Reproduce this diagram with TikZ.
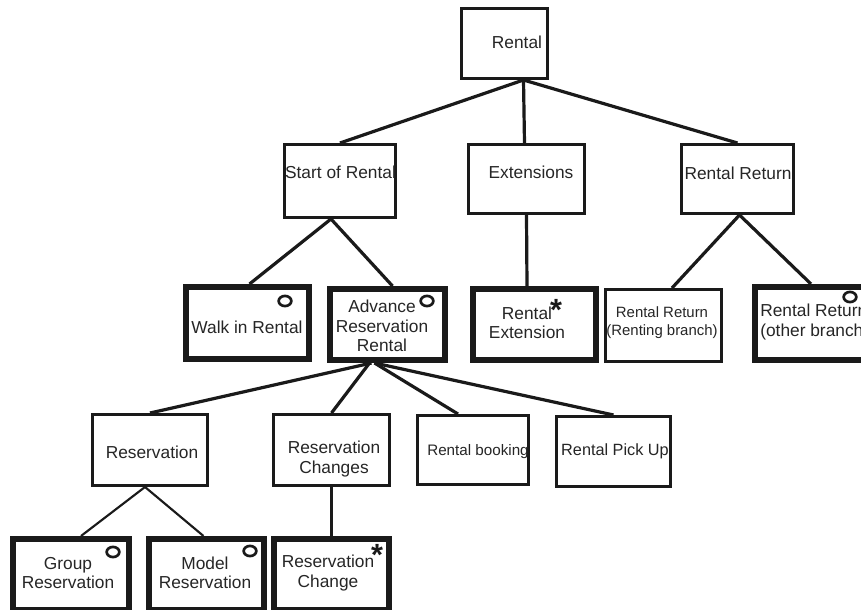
\documentclass[tikz,border=0pt]{standalone}
\usepackage{fontspec}
\setmainfont{Liberation Sans}
\usetikzlibrary{shapes.geometric,calc}
\definecolor{ink}{HTML}{1A1A1A}
\definecolor{txtc}{HTML}{262626}
\tikzset{
  thinbox/.style={draw=ink,line width=2.25pt,rectangle,inner sep=0pt,fill=white},
  thickbox/.style={draw=ink,line width=4.5pt,rectangle,inner sep=0pt,fill=white},
  link/.style={draw=ink,line width=2.4pt},
  linkthin/.style={draw=ink,line width=1.6pt},
  lab/.style={text=txtc,font=\fontsize{13}{14.5}\selectfont,align=center,inner sep=0pt},
  labsmall/.style={lab,font=\fontsize{11.2}{13.5}\selectfont},
  labmid/.style={lab,font=\fontsize{11.4}{14}\selectfont},
  mark circle/.style={ellipse,draw=ink,line width=2pt,minimum width=9.5pt,minimum height=7.6pt,inner sep=0pt},
  star/.style={text=ink,font=\bfseries\fontsize{23}{23}\selectfont,inner sep=0pt},
}
% #1 style, #2 name, #3 #4 top-left, #5 #6 bottom-right (outer edge, px); #7 border width in px
\newcommand{\pbox}[7]{%
  \pgfmathsetmacro{\bxw}{(#5-#3-#7)*0.75}%
  \pgfmathsetmacro{\bxh}{(#6-#4-#7)*0.75}%
  \node[#1,minimum width=\bxw pt,minimum height=\bxh pt] (#2) at ({(#3+#5)/2},{(#4+#6)/2}) {};%
}
\begin{document}
\begin{tikzpicture}[x=0.75pt,y=-0.75pt]
\clip (0,0) rectangle (861,610);
\fill[white] (0,0) rectangle (861,610);

\pbox{thinbox}{rental}{460}{7}{549}{80}{3}
\pbox{thinbox}{start}{283}{143}{397}{219}{3}
\pbox{thinbox}{ext}{467}{143}{586}{215}{3}
\pbox{thinbox}{ret}{680}{143}{795}{215}{3}
\pbox{thickbox}{walk}{183}{284}{312}{362}{6}
\pbox{thickbox}{adv}{327}{286}{448}{363}{6}
\pbox{thickbox}{rext}{470}{286}{599}{363}{6}
\pbox{thinbox}{rretr}{604}{288}{723}{363}{3}
\pbox{thickbox}{rreto}{752}{284}{900}{363}{6}
\pbox{thinbox}{res}{91}{413}{209}{487}{3}
\pbox{thinbox}{chg}{272}{413}{391}{487}{3}
\pbox{thinbox}{book}{416}{414}{530}{486}{3}
\pbox{thinbox}{pick}{555}{415}{672}{488}{3}
\pbox{thickbox}{group}{10}{536}{132}{613}{6}
\pbox{thickbox}{model}{146}{536}{267}{613}{6}
\pbox{thickbox}{rchg}{271}{536}{392}{613}{6}

\draw[link] ($(rental.south)+(19,0)$) -- (start.north);
\draw[link] ($(rental.south)+(19,0)$) -- ($(ext.north)+(-2,0)$);
\draw[link] ($(rental.south)+(19,0)$) -- (ret.north);
\draw[link] ($(start.south)+(-9,0)$) -- ($(walk.north)+(2,0)$);
\draw[link] ($(start.south)+(-9,0)$) -- ($(adv.north)+(5,0)$);
\draw[link] ($(ext.south)+(0,0)$) -- ($(rext.north)+(-7.5,0)$);
\draw[link] ($(ret.south)+(2,0)$) -- ($(rretr.north)+(8.5,0)$);
\draw[link] ($(ret.south)+(2,0)$) -- ($(rreto.north)+(-15,0)$);
\draw[link] ($(adv.south)+(-16,0)$) -- (res.north);
\draw[link] ($(adv.south)+(-18,0)$) -- ($(chg.north)+(0,0)$);
\draw[link] ($(adv.south)+(-13,0)$) -- ($(book.north)+(-15,0)$);
\draw[link] ($(adv.south)+(-13,0)$) -- (pick.north);
\draw[linkthin] ($(res.south)+(-5,0)$) -- ($(group.north)+(10,0)$);
\draw[linkthin] ($(res.south)+(-5,0)$) -- ($(model.north)+(-3,0)$);
\draw[linkthin] (chg.south) -- (rchg.north -| chg.south);

\node[lab] (t1) at (517,42) {Rental};
\node[lab] (t2) at (340.5,172) {Start of Rental};
\node[lab] (t3) at (531,172) {Extensions};
\node[lab] (t4) at (738,173) {Rental Return};
\node[lab] (t5) at (247,327) {Walk in Rental};
\node[lab] (t6) at (382,326) {Advance\\Reservation\\Rental};
\node[lab] (t7) at (527,323) {Rental\\Extension};
\node[labsmall] (t8) at (662,323) {Rental Return\\(Renting branch)};
\node[lab,anchor=west,align=left] (t9) at (760,322) {Rental Return\\(other branch)};
\node[lab] (t10) at (152,452) {Reservation};
\node[lab] (t11) at (334,459) {Reservation\\Changes};
\node[labmid] (t12) at (478,452) {Rental booking};
\node[lab,font=\fontsize{12.2}{14}\selectfont] (t13) at (615,451) {Rental Pick Up};
\node[lab] (t14) at (68,573) {Group\\Reservation};
\node[lab] (t15) at (205,573) {Model\\Reservation};
\node[lab] (t16) at (328,573) {Reservation\\Change};

\node[mark circle] (c1) at (285,301) {};
\node[mark circle] (c2) at (427,301) {};
\node[mark circle] (c3) at (850,297) {};
\node[mark circle] (c4) at (113,552) {};
\node[mark circle] (c5) at (250,551) {};
\node[star] (s1) at (556,310) {*};
\node[star] (s2) at (377,555) {*};
\end{tikzpicture}
\end{document}
